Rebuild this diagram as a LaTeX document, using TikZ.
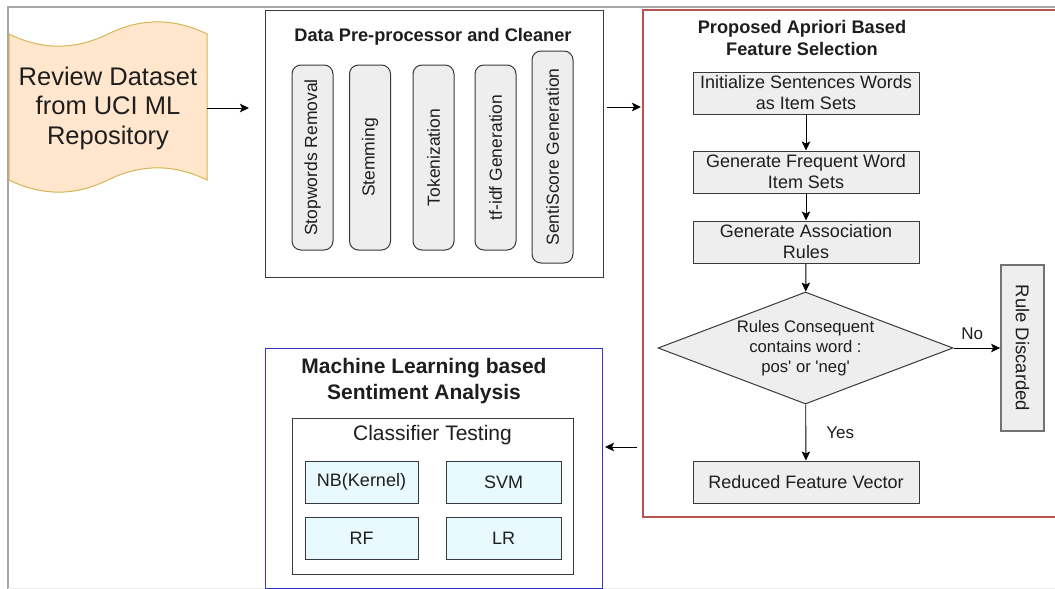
\documentclass[tikz,border=0pt]{standalone}
\usepackage{fontspec}
\setmainfont{Liberation Sans}
\usetikzlibrary{shapes.geometric,arrows.meta,calc}
\definecolor{txt}{HTML}{1E1E1E}
\definecolor{boxgray}{HTML}{EEEEEE}
\definecolor{boxstroke}{HTML}{36393D}
\definecolor{docfill}{HTML}{FFE6CC}
\definecolor{docstroke}{HTML}{D6B656}
\definecolor{redframe}{HTML}{B85450}
\definecolor{blueframe}{HTML}{3434C8}
\definecolor{cyanfill}{HTML}{E8FAFE}
\definecolor{frame}{HTML}{A8A4A8}
\begin{document}
\begin{tikzpicture}[x=1pt,y=-1pt,
  arr/.style={-{Stealth[length=9pt,width=8.5pt,inset=2pt]}, line width=0.9pt, black},
  container/.style={draw=boxstroke, line width=1pt, inner sep=0pt},
  pill/.style={draw=boxstroke, fill=boxgray, rounded corners=9pt, line width=1pt,
    minimum height=41pt, inner sep=0pt, text=txt, font=\fontsize{17.5}{20}\selectfont},
  abox/.style={draw=boxstroke, fill=boxgray, line width=1pt, minimum width=226pt,
    minimum height=42pt, inner sep=0pt, align=center, text=txt,
    font=\fontsize{18}{21}\selectfont},
  cbox/.style={draw=boxstroke, fill=cyanfill, line width=1pt, minimum width=113pt,
    minimum height=42pt, inner sep=0pt, text=txt, font=\fontsize{18}{21}\selectfont},
  title/.style={align=center, text=txt, inner sep=0pt},
  lbl/.style={text=txt, inner sep=0pt, font=\fontsize{17}{20}\selectfont}
]
\useasboundingbox (0,0) rectangle (1055,589);
\fill[white] (0,0) rectangle (1055,589);
% outer frame
\draw[frame, line width=1.5pt] (8,589) -- (8,7) -- (1055,7);
\draw[black!8, line width=0.8pt] (8,588) -- (1055,588);

% document (tape) shape
\draw[docstroke, fill=docfill, line width=1pt]
  (9,34) .. controls (42,50.2) and (75,50.2) .. (108,34)
  .. controls (141,17.8) and (174,17.8) .. (207,34)
  -- (207,180)
  .. controls (174,163.8) and (141,163.8) .. (108,180)
  .. controls (75,196.2) and (42,196.2) .. (9,180) -- cycle;
\node[title, font=\fontsize{25.5}{29.5}\selectfont] (doc) at (108,108)
  {Review Dataset\\from UCI ML\\Repository};

% pre-processor
\node[container, minimum width=338pt, minimum height=267pt] (pre) at (434,143.5) {};
\node[title, font=\bfseries\fontsize{18.2}{21}\selectfont] (pretitle) at (433,37)
  {Data Pre-processor and Cleaner};
\node[pill, rotate=90, minimum width=185pt] (p1) at (312.5,157.5) {Stopwords Removal};
\node[pill, rotate=90, minimum width=185pt] (p2) at (370,157.5) {Stemming};
\node[pill, rotate=90, minimum width=185pt] (p3) at (433.5,157.5) {Tokenization};
\node[pill, rotate=90, minimum width=185pt] (p4) at (495.5,157.5) {tf-idf Generation};
\node[pill, rotate=90, minimum width=212pt] (p5) at (552.5,157) {SentiScore Generation};

% apriori container
\node[draw=redframe, line width=2pt, minimum width=415pt, minimum height=507pt, inner sep=0pt]
  (apr) at (850.5,263.5) {};
\node[title, font=\bfseries\fontsize{18.2}{21.5}\selectfont] (aprtitle) at (802,38)
  {Proposed Apriori Based\\Feature Selection};
\node[abox] (b1) at (806,93) {Initialize Sentences Words\\as Item Sets};
\node[abox] (b2) at (806,172) {Generate Frequent Word\\Item Sets};
\node[abox] (b3) at (806,242) {Generate Association\\Rules};
\node[diamond, draw=boxstroke, fill=boxgray, line width=1pt, inner sep=0pt,
  aspect=2.63, minimum width=295pt, minimum height=112pt, align=center, text=txt,
  font=\fontsize{16.7}{20}\selectfont] (dec) at (805.5,348)
  {Rules Consequent\\contains word :\\pos\textquotesingle{} or \textquotesingle neg\textquotesingle};
\node[abox] (b4) at (806,482) {Reduced Feature Vector};
\node[draw=black!55, fill=boxgray, line width=1.8pt, rotate=-90, minimum width=166pt,
  minimum height=43pt, inner sep=0pt, text=txt, font=\fontsize{18.5}{21}\selectfont]
  (rd) at (1022.5,348) {Rule Discarded};

\draw[arr] (b1) -- (b2);
\draw[arr] (b2) -- (b3);
\draw[arr] (b3) -- (dec);
\draw[arr] (dec) -- node[lbl, pos=0.5, right=20pt] {Yes} (b4);
\draw[arr] (dec.east) -- node[lbl, above=8pt, pos=0.4] {No} (rd);

% ML container
\node[draw=blueframe, line width=1pt, minimum width=337pt, minimum height=240pt, inner sep=0pt]
  (ml) at (433.5,468) {};
\node[title, font=\bfseries\fontsize{21}{26}\selectfont] (mltitle) at (424,381)
  {Machine Learning based\\Sentiment Analysis};
\node[container, minimum width=281pt, minimum height=156pt] (ct) at (432.5,496) {};
\node[title, font=\fontsize{21}{24}\selectfont] (cttitle) at (432.5,435) {Classifier Testing};
\node[cbox] (nb) at (361.5,482) {NB(Kernel)};
\node[cbox, minimum width=115pt] (svm) at (503.5,482) {SVM};
\node[cbox] (rf) at (361.5,538.5) {RF};
\node[cbox, minimum width=115pt] (lr) at (503.5,538.5) {LR};

% connectors between stages
\coordinate (c1) at (207,108);
\coordinate (c2) at (249,108);
\coordinate (c3) at (607,107);
\coordinate (c4) at (641,107);
\coordinate (c5) at (637,447);
\coordinate (c6) at (605,447);
\draw[arr] (c1) -- (c2);
\draw[arr] (c3) -- (c4);
\draw[arr] (c5) -- (c6);
\end{tikzpicture}
\end{document}
